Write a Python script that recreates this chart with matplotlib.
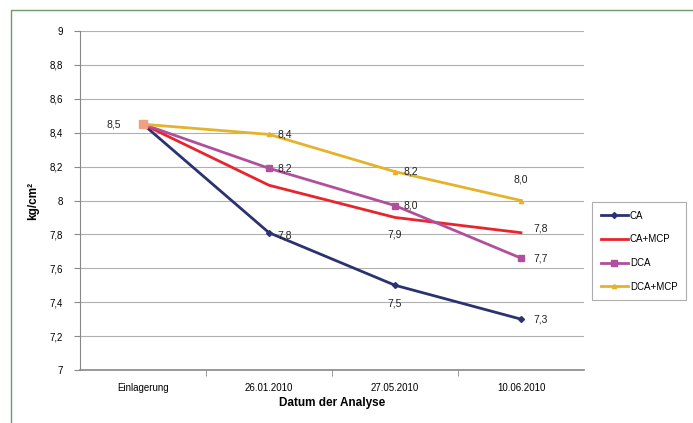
import matplotlib
matplotlib.use("Agg")
import matplotlib.pyplot as plt
from matplotlib.patches import Rectangle

plt.rcParams['font.family'] = ['Liberation Sans', 'DejaVu Sans']

categories = ["Einlagerung", "26.01.2010", "27.05.2010", "10.06.2010"]
series_names = ["CA", "CA+MCP", "DCA", "DCA+MCP"]
ca = [8.45, 7.81, 7.50, 7.30]
ca_mcp = [8.45, 8.09, 7.90, 7.81]
dca = [8.45, 8.19, 7.97, 7.66]
dca_mcp = [8.45, 8.39, 8.17, 8.00]
labels_ca = [None, "7,8", "7,5", "7,3"]
labels_ca_mcp = [None, None, "7,9", "7,8"]
labels_dca = [None, "8,2", "8,0", "7,7"]
labels_dca_mcp = ["8,5", "8,4", "8,2", "8,0"]
y_ticks = [7, 7.2, 7.4, 7.6, 7.8, 8, 8.2, 8.4, 8.6, 8.8, 9]
y_ticklabels = ["7", "7,2", "7,4", "7,6", "7,8", "8", "8,2", "8,4", "8,6", "8,8", "9"]

fig = plt.figure(figsize=(6.93, 4.23), dpi=100)
W, H = 693, 423
ax = fig.add_axes([80 / W, 1 - 370 / H, (584 - 80) / W, (370 - 31) / H])

# outer border (right and bottom edges run off the picture)
fig.patches.append(Rectangle((11 / W, -0.02), 1.0, 1 - 10 / H + 0.02,
                             transform=fig.transFigure, fill=False,
                             edgecolor="#6f9a6f", linewidth=1.0))

x = list(range(len(categories)))
styles = [
    (ca, "#2b3270", "D", 3, labels_ca),
    (ca_mcp, "#e8242c", None, 0, labels_ca_mcp),
    (dca, "#b04f9c", "s", 5, labels_dca),
    (dca_mcp, "#e6b22a", "^", 3, labels_dca_mcp),
]
lines = []
for (vals, col, mk, ms, labs), name in zip(styles, series_names):
    ln, = ax.plot(x, vals, color=col, lw=2.0, marker=mk, markersize=ms,
                  label=name, zorder=3)
    lines.append(ln)

# start marker (salmon square)
ax.plot([x[0]], [dca_mcp[0]], marker="s", markersize=6, color="#f0a080", zorder=4, lw=0)

# data labels with offsets (points)
offsets = {
    "CA": [None, (6, -2), (0, -13), (9, 0)],
    "CA+MCP": [None, None, (0, -12), (9, 3)],
    "DCA": [None, (6, 0), (6, 0), (9, 0)],
    "DCA+MCP": [(-16, 0), (6, 0), (6, 0), (0, 15)],
}
series_vals = [ca, ca_mcp, dca, dca_mcp]
series_labels = [labels_ca, labels_ca_mcp, labels_dca, labels_dca_mcp]
for name, vals, labs in zip(series_names, series_vals, series_labels):
    for i, (v, lab) in enumerate(zip(vals, labs)):
        if lab is None:
            continue
        dx, dy = offsets[name][i]
        ax.annotate(lab, (x[i], v), xytext=(dx, dy), textcoords="offset points",
                    ha="left" if dx > 0 else ("right" if dx < 0 else "center"),
                    va="center", fontsize=7.5, color="#222222", zorder=5)

ax.set_xlim(-0.5, 3.5)
ax.set_ylim(7, 9)
ax.set_yticks(y_ticks)
ax.set_yticklabels(y_ticklabels, fontsize=7)
ax.set_xticks(x)
ax.set_xticklabels(categories, fontsize=7)
ax.set_xticks([0.5, 1.5, 2.5], minor=True)
ax.tick_params(axis="x", which="major", length=0, pad=9)
ax.tick_params(axis="x", which="minor", length=4, color="#888888", direction="out")
ax.tick_params(axis="y", length=4, color="#888888", direction="out", pad=8)
ax.grid(axis="y", color="#b0b0b0", lw=0.8, zorder=0)
for s in ["top", "right"]:
    ax.spines[s].set_visible(False)
ax.spines["left"].set_color("#888888")
ax.spines["bottom"].set_color("#888888")
ax.spines["bottom"].set_linewidth(1.2)

ax.set_xlabel("Datum der Analyse", fontsize=8.5, fontweight="bold", labelpad=3)
ax.set_ylabel("kg/cm²", fontsize=8.5, fontweight="bold", labelpad=8)

leg = fig.legend(handles=lines, labels=series_names, loc="upper left",
                 bbox_to_anchor=(592 / W, 1 - 202 / H), fontsize=7,
                 frameon=True, fancybox=False, edgecolor="#999999",
                 handlelength=2.8, labelspacing=1.4, borderpad=0.9,
                 handletextpad=0.2, borderaxespad=0)
leg.get_frame().set_linewidth(0.8)

fig.savefig("out.png", dpi=100)
